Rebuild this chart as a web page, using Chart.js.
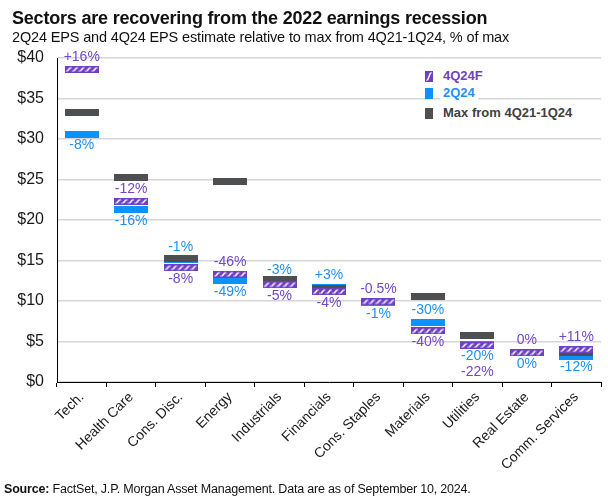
<!DOCTYPE html>
<html>
<head>
<meta charset="utf-8">
<script src="https://cdn.jsdelivr.net/npm/chart.js@4.4.1/dist/chart.umd.min.js"></script>
<style>
  html, body { margin: 0; padding: 0; background: #fff; }
  body { width: 608px; height: 501px; position: relative; overflow: hidden; font-family: "Liberation Sans", Arial, sans-serif; }
  #wrap { position: absolute; left: 0; top: 0; width: 608px; height: 501px; }
  .txt { position: absolute; white-space: nowrap; line-height: 1; color: #111; }
  #title { left: 12px; top: 9px; font-size: 18px; font-weight: bold; letter-spacing: -0.2px; }
  #subtitle { left: 12px; top: 30px; font-size: 14.5px; letter-spacing: -0.15px; }
  #source { left: 4px; top: 483px; font-size: 12.5px; letter-spacing: -0.19px; }
  .leg { position: absolute; left: 425px; display: flex; align-items: center; font-size: 13px; font-weight: bold; line-height: 1; }
  .leg canvas { display: block; }
  .leg span { background: #fff; padding: 1px 3px 2px 3px; margin-left: 7px; }
</style>
</head>
<body>
<div id="wrap"><canvas id="c" width="608" height="501"></canvas></div>
<div class="txt" id="title">Sectors are recovering from the 2022 earnings recession</div>
<div class="txt" id="subtitle">2Q24 EPS and 4Q24 EPS estimate relative to max from 4Q21-1Q24, % of max</div>
<div class="txt" id="source"><b>Source:</b> FactSet, J.P. Morgan Asset Management. Data are as of September 10, 2024.</div>
<div class="leg" id="leg1" style="top:68px;"><canvas id="sw1" width="8" height="11"></canvas><span style="color:#7040C0">4Q24F</span></div>
<div class="leg" id="leg2" style="top:85px;"><canvas id="sw2" width="8" height="11"></canvas><span style="color:#1E8FF5">2Q24</span></div>
<div class="leg" id="leg3" style="top:105px;"><canvas id="sw3" width="8" height="11"></canvas><span style="color:#404040">Max from 4Q21-1Q24</span></div>
<script>
// ---- data ----
const categories = ['Tech.', 'Health Care', 'Cons. Disc.', 'Energy', 'Industrials', 'Financials', 'Cons. Staples', 'Materials', 'Utilities', 'Real Estate', 'Comm. Services'];
const maxEPS   = [33.3, 25.3, 15.3, 24.7, 12.65, 11.55, 9.95, 10.5, 5.8, 3.6, 3.6];
const eps2Q24  = [30.6, 21.3, 15.15, 12.5, 12.3, 11.7, 9.85, 7.3, 4.64, 3.6, 3.2];
const eps4Q24F = [38.6, 22.3, 14.1, 13.3, 12.0, 11.15, 9.9, 6.3, 4.52, 3.6, 4.0];
const pct2Q24  = ['-8%', '-16%', '-1%', '-49%', '-3%', '+3%', '-1%', '-30%', '-20%', '0%', '-12%'];
const pct4Q24F = ['+16%', '-12%', '-8%', '-46%', '-5%', '-4%', '-0.5%', '-40%', '-22%', '0%', '+11%'];
const yTickMin = 0, yTickMax = 40, yTickStep = 5;

// label placement relative to own marker
const pos2Q24  = ['below', 'below', 'above', 'below', 'above', 'above', 'below', 'above', 'below', 'below', 'below'];
const pos4Q24F = ['above', 'above', 'below', 'above', 'below', 'below', 'above', 'below', 'below2', 'above', 'above'];

// ---- styles ----
const PURPLE = '#6E3FC2';
const PURPLE_TXT = '#7446C8';
const BLUE = '#0A92FF';
const BLUE_TXT = '#1E8FF5';
const GRAY = '#4D4F51';
const MW = 34, MH = 7;

function solidMarker(color, w, h) {
  const cv = document.createElement('canvas');
  cv.width = w; cv.height = h;
  const g = cv.getContext('2d');
  g.fillStyle = color; g.fillRect(0, 0, w, h);
  return cv;
}
function hatchMarker(w, h, cv) {
  cv = cv || document.createElement('canvas');
  cv.width = w; cv.height = h;
  const g = cv.getContext('2d');
  g.fillStyle = PURPLE; g.fillRect(0, 0, w, h);
  g.strokeStyle = '#ffffff';
  g.lineWidth = 1.5;
  g.save();
  g.beginPath(); g.rect(1, 1.5, w - 2, h - 3); g.clip();
  for (let x0 = -6; x0 < w + 6; x0 += 6.5) {
    g.beginPath();
    g.moveTo(x0, h - 1.5);
    g.lineTo(x0 + 2, h - 1.8);
    g.lineTo(x0 + 5, 1.8);
    g.lineTo(x0 + 6.5, 1.5);
    g.stroke();
  }
  g.restore();
  return cv;
}

const mk4Q = hatchMarker(MW, MH);
const mkMax = solidMarker(GRAY, MW, MH);
const mk2Q = solidMarker(BLUE, MW, MH);

// legend swatches
hatchMarker(8, 11, document.getElementById('sw1'));
(function(){ const g = document.getElementById('sw2').getContext('2d'); g.fillStyle = BLUE; g.fillRect(0,0,8,11); })();
(function(){ const g = document.getElementById('sw3').getContext('2d'); g.fillStyle = GRAY; g.fillRect(0,0,8,11); })();

const pctLabels = {
  id: 'pctLabels',
  afterDatasetsDraw(chart) {
    const ctx = chart.ctx;
    ctx.save();
    ctx.font = '14px "Liberation Sans", Arial, sans-serif';
    ctx.textAlign = 'center';
    ctx.textBaseline = 'middle';
    const draw = (dsIndex, texts, pos, color) => {
      const meta = chart.getDatasetMeta(dsIndex);
      meta.data.forEach((pt, i) => {
        let y = pt.y;
        if (pos[i] === 'above') y = pt.y - MH / 2 - 9;
        else if (pos[i] === 'below') y = pt.y + MH / 2 + 8;
        else if (pos[i] === 'below2') y = pt.y + MH / 2 + 23;
        ctx.fillStyle = color;
        ctx.fillText(texts[i], pt.x, y);
      });
    };
    draw(0, pct4Q24F, pos4Q24F, PURPLE_TXT);
    draw(2, pct2Q24, pos2Q24, BLUE_TXT);
    ctx.restore();
  }
};

Chart.defaults.font.family = '"Liberation Sans", Arial, sans-serif';

new Chart(document.getElementById('c'), {
  type: 'line',
  data: {
    labels: categories,
    datasets: [
      { label: '4Q24F', data: eps4Q24F, showLine: false, pointStyle: mk4Q, pointRadius: 3 },
      { label: 'Max from 4Q21-1Q24', data: maxEPS, showLine: false, pointStyle: mkMax, pointRadius: 3 },
      { label: '2Q24', data: eps2Q24, showLine: false, pointStyle: mk2Q, pointRadius: 3 }
    ]
  },
  options: {
    responsive: false,
    animation: false,
    events: [],
    layout: { padding: { top: 58, right: 7, left: 0, bottom: 0 } },
    plugins: { legend: { display: false }, tooltip: { enabled: false } },
    scales: {
      x: {
        offset: true,
        grid: { offset: true, drawOnChartArea: false, drawTicks: true, tickLength: 5, color: '#000' },
        border: { display: true, color: '#000', width: 1 },
        ticks: { minRotation: 45, maxRotation: 45, autoSkip: false, padding: 2, color: '#1a1a1a', font: { size: 14 } },
        afterFit(scale) { scale.height = 119; }
      },
      y: {
        min: yTickMin, max: yTickMax,
        grid: { color: '#d6d6d6', lineWidth: 1.5, drawTicks: false },
        border: { display: true, color: '#000', width: 1 },
        ticks: { stepSize: yTickStep, padding: 13, color: '#1a1a1a', font: { size: 16 }, callback: v => '$' + v },
        afterFit(scale) { scale.width = 57; }
      }
    }
  },
  plugins: [pctLabels]
});
</script>
</body>
</html>
